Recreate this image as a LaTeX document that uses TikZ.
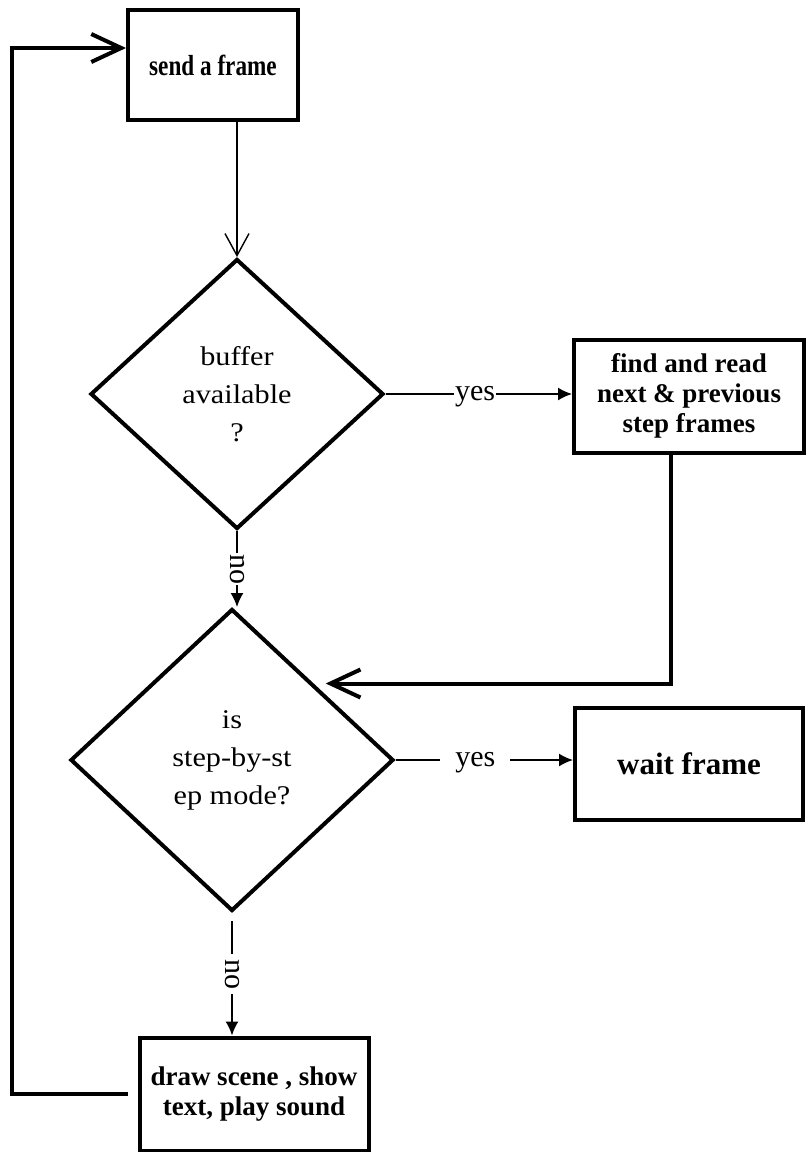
\documentclass[tikz,border=0pt]{standalone}
\usepackage{fontspec}
\setmainfont{Liberation Serif}
% wide light serif used inside the decision diamonds
\newfontfamily\widefont[FakeStretch=1.12]{Liberation Serif}
% narrow bold serif for the top box
\newfontfamily\narrowbold[FakeStretch=0.8]{Liberation Serif Bold}
\usetikzlibrary{shapes.geometric,arrows.meta,calc}

\tikzset{
  procbox/.style={draw, line width=4pt, inner sep=0pt, align=center,
    font=\bfseries\fontsize{27}{30}\selectfont},
  decision/.style={draw, diamond, line width=4pt, inner sep=0pt, align=center,
    font=\widefont\fontsize{27}{38}\selectfont},
  flowline/.style={line width=1.6pt, -{Latex[length=14pt,width=13pt]}},
  entryline/.style={line width=1.4pt, -{Straight Barb[length=22pt,width=24pt,line width=1.4pt]}},
  loopline/.style={line width=4pt, -{Straight Barb[length=30pt,width=28pt,line width=4pt]}},
  edgelabel/.style={fill=white, anchor=center, inner xsep=1pt, inner ysep=0pt,
    text height=13pt, text depth=0pt, font=\fontsize{30}{32}\selectfont},
}

\begin{document}
\begin{tikzpicture}[x=1pt,y=-1pt]
\useasboundingbox[fill=white] (0,0) rectangle (807,1152);

% process boxes
\node[procbox, minimum width=170pt, minimum height=110pt,
      font=\narrowbold\fontsize{29}{30}\selectfont] (send) at (213,65) {send a frame};
\node[procbox, minimum width=230pt, minimum height=113pt] (find) at (689,396)
  {find and read\\next \& previous\\step frames};
\node[procbox, minimum width=228pt, minimum height=112pt,
      font=\bfseries\fontsize{31}{32}\selectfont] (wait) at (689,764) {wait frame};
\node[procbox, minimum width=229pt, minimum height=113pt] (draw) at (254,1094)
  {draw scene , show\\text, play sound};

% decisions
\node[decision, minimum width=293pt, minimum height=270pt] (d1) at (237,394)
  {buffer\\available\\?};
\node[decision, minimum width=323pt, minimum height=302pt] (d2) at (232,760)
  {is\\step-by-st\\ep mode?};

% connectors
\draw[entryline] (send.south -| d1.north) -- (d1.north);
\draw[flowline] (d1.east) -- (d1.east -| find.west)
  node[edgelabel, pos=0.48] {yes};
\draw[flowline] (d1.south) -- (d1.south |- d2.north)
  node[edgelabel, midway, rotate=-90] {no};
\draw[loopline] ([xshift=-18pt]find.south) |- ([xshift=12pt]d2.north east);
\draw[flowline] (d2.east) -- (d2.east -| wait.west)
  node[edgelabel, pos=0.45, inner xsep=15pt] {yes};
\draw[flowline, shorten <=8pt] (d2.south) -- (d2.south |- draw.north)
  node[edgelabel, midway, rotate=-90, inner xsep=5pt] {no};

\coordinate (corner) at (12,48);
\draw[loopline] ([xshift=-10pt]draw.west) -| (corner) -- (corner -| send.west);
\end{tikzpicture}
\end{document}
